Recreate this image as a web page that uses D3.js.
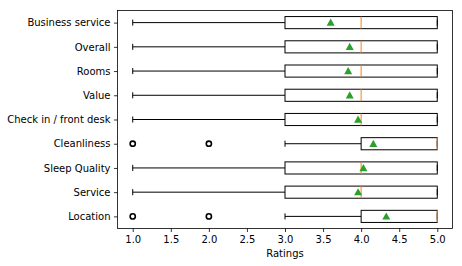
<!DOCTYPE html>
<html><head><meta charset="utf-8">
<script src="https://cdn.jsdelivr.net/npm/d3@7"></script>
<style>body{margin:0;background:#fff}svg{display:block}text{font-family:"DejaVu Sans",sans-serif}</style>
</head><body>
<svg id="c" width="462" height="266"></svg>
<script>
const categories = ["Business service","Overall","Rooms","Value","Check in / front desk","Cleanliness","Sleep Quality","Service","Location"];
const whiskerLow = [1,1,1,1,1,3,1,1,3];
const q1 = [3,3,3,3,3,4,3,3,4];
const median = [4,4,4,4,4,5,4,4,5];
const q3 = [5,5,5,5,5,5,5,5,5];
const whiskerHigh = [5,5,5,5,5,5,5,5,5];
const means = [3.6,3.85,3.83,3.85,3.96,4.16,4.03,3.96,4.33];
const outliers = [[],[],[],[],[],[1,2],[],[],[1,2]];
const xTicks = [1.0,1.5,2.0,2.5,3.0,3.5,4.0,4.5,5.0];

const svg = d3.select("#c");
const L=117.5, R=452.5, T=10.5, B=228.5;
const x = d3.scaleLinear().domain([0.8,5.2]).range([L,R]);
const y = d3.scaleLinear().domain([0.5,9.5]).range([T,B]);
const yPos = i => y(i+1);
const bh = y(1.25)-y(1);

const g = svg.append("g");
categories.forEach((c,i)=>{
  const cy = yPos(i);
  // whiskers
  g.append("line").attr("x1",x(whiskerLow[i])).attr("x2",x(q1[i])).attr("y1",cy).attr("y2",cy).attr("stroke","#000").attr("stroke-width",1);
  g.append("line").attr("x1",x(q3[i])).attr("x2",x(whiskerHigh[i])).attr("y1",cy).attr("y2",cy).attr("stroke","#000").attr("stroke-width",1);
  // caps
  [whiskerLow[i],whiskerHigh[i]].forEach(v=>{
    g.append("line").attr("x1",x(v)).attr("x2",x(v)).attr("y1",cy-bh/2).attr("y2",cy+bh/2).attr("stroke","#000").attr("stroke-width",1);
  });
  // box
  g.append("rect").attr("x",x(q1[i])).attr("y",cy-bh).attr("width",x(q3[i])-x(q1[i])).attr("height",2*bh)
    .attr("fill","none").attr("stroke","#000").attr("stroke-width",1);
  // median
  g.append("line").attr("x1",x(median[i])).attr("x2",x(median[i])).attr("y1",cy-bh).attr("y2",cy+bh).attr("stroke","#ff7f0e").attr("stroke-width",1);
  // mean
  g.append("path").attr("transform",`translate(${x(means[i])},${cy})`)
    .attr("d","M0,-4L4,3.2L-4,3.2Z").attr("fill","#2ca02c");
  // outliers
  outliers[i].forEach(v=>{
    g.append("circle").attr("cx",x(v)).attr("cy",cy).attr("r",2.6).attr("fill","none").attr("stroke","#000").attr("stroke-width",1.6);
  });
});

// frame
svg.append("rect").attr("x",L).attr("y",T).attr("width",R-L).attr("height",B-T).attr("fill","none").attr("stroke","#000").attr("stroke-width",0.8);

const xa = svg.append("g").attr("transform",`translate(0,${B})`)
  .call(d3.axisBottom(x).tickValues(xTicks).tickFormat(d3.format(".1f")).tickSize(3.5).tickPadding(3.5));
xa.select(".domain").remove();
xa.selectAll("text").attr("font-size",10).attr("fill","#000").attr("font-family","DejaVu Sans");
xa.selectAll("line").attr("stroke","#000").attr("stroke-width",0.8);

const ya = svg.append("g").attr("transform",`translate(${L},0)`)
  .call(d3.axisLeft(y).tickValues(d3.range(1,10)).tickFormat(d=>categories[d-1]).tickSize(3.5).tickPadding(3.5));
ya.select(".domain").remove();
ya.selectAll("text").attr("font-size",10).attr("fill","#000").attr("font-family","DejaVu Sans");
ya.selectAll("line").attr("stroke","#000").attr("stroke-width",0.8);

svg.append("text").attr("x",(L+R)/2).attr("y",257).attr("text-anchor","middle").attr("font-size",10).text("Ratings");
</script>
</body></html>
